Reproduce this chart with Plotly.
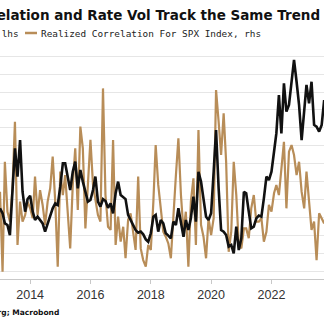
import pandas as pd
import plotly.graph_objects as go

# Monthly observations starting Jan 2013
start_month = "2013-01-01"

rate_vol_lhs = [
    75.4, 72.6, 67.0, 66.1, 60.5, 82.8, 108.7, 93.0, 113.3, 84.6,
    73.5, 80.5, 82.4, 73.5, 68.9, 70.7, 68.9, 67.0, 62.4, 67.0,
    70.7, 75.4, 78.1, 77.2, 87.4, 100.4, 100.4, 93.0, 85.5, 95.7,
    101.3, 86.5, 96.7, 90.2, 83.7, 79.1, 80.0, 85.5, 93.0, 79.1,
    76.3, 80.5, 79.4, 75.7, 78.1, 72.6, 83.7, 90.2, 82.8, 81.8,
    80.5, 71.7, 68.9, 65.2, 63.3, 61.8, 62.4, 60.9, 58.1, 56.8,
    61.5, 70.7, 71.7, 62.4, 68.9, 67.0, 61.5, 60.2, 58.7, 68.0,
    66.1, 75.4, 68.0, 59.6, 68.9, 63.3, 69.8, 81.8, 68.0, 95.7,
    90.2, 80.9, 70.7, 68.9, 72.6, 95.7, 118.9, 86.5, 63.3, 62.4,
    60.5, 54.1, 55.0, 50.4, 65.2, 52.2, 58.7, 84.6, 83.7, 73.5,
    64.3, 65.2, 69.8, 71.3, 70.7, 80.9, 93.0, 91.1, 95.7, 106.8,
    117.0, 138.3, 117.0, 144.8, 129.1, 132.8, 146.7, 157.8, 145.7, 132.8,
    113.3, 129.1, 143.9, 133.7, 145.7, 121.7, 120.7, 118.0, 121.7, 135.5,
]

realized_corr_rhs = [
    0.357, 0.001, 0.490, 0.268, 0.224, 0.372, 0.668, 0.120, 0.313, 0.224,
    0.253, 0.313, 0.283, 0.239, 0.424, 0.253, 0.364, 0.298, 0.209, 0.313,
    0.372, 0.513, 0.313, 0.024, 0.446, 0.342, 0.431, 0.239, 0.105, 0.387,
    0.550, 0.276, 0.646, 0.550, 0.194, 0.387, 0.587, 0.387, 0.327, 0.253,
    0.224, 0.816, 0.342, 0.201, 0.187, 0.587, 0.120, 0.246, 0.135, 0.201,
    0.061, 0.231, 0.261, 0.179, 0.098, 0.424, 0.105, 0.053, 0.024, 0.120,
    0.098, 0.313, 0.564, 0.387, 0.268, 0.179, 0.157, 0.127, 0.061, 0.268,
    0.431, 0.594, 0.342, 0.179, 0.268, 0.024, 0.313, 0.416, 0.120, 0.631,
    0.209, 0.157, 0.061, 0.239, 0.164, 0.239, 0.809, 0.668, 0.520, 0.705,
    0.490, 0.090, 0.179, 0.490, 0.342, 0.120, 0.105, 0.194, 0.194, 0.150,
    0.283, 0.342, 0.224, 0.224, 0.239, 0.135, 0.179, 0.298, 0.268, 0.350,
    0.387, 0.342, 0.461, 0.579, 0.283, 0.535, 0.564, 0.520, 0.431, 0.490,
    0.357, 0.283, 0.446, 0.313, 0.187, 0.224, 0.053, 0.261, 0.239, 0.216,
]

title_text = "Stock Correlation and Rate Vol Track the Same Trend"
name_black = "MOVE Index, lhs"
name_tan = "Realized Correlation For SPX Index, rhs"
source_text = "Source: Bloomberg; Macrobond"

dates = pd.date_range(start_month, periods=len(rate_vol_lhs), freq="MS")

BLACK = "#111111"
TAN = "#B88D58"
W, H = 324, 326
T, B = 47, 47
plot_h = H - T - B


def py(p):
    # pixel row -> paper y
    return (H - B - p) / plot_h


def px(p):
    return p / W


fig = go.Figure()
fig.add_trace(go.Scatter(x=dates, y=realized_corr_rhs, name=name_tan, mode="lines",
                         line=dict(color=TAN, width=2.2), yaxis="y"))
fig.add_trace(go.Scatter(x=dates, y=rate_vol_lhs, name=name_black, mode="lines",
                         line=dict(color=BLACK, width=2.6), yaxis="y2"))

fig.update_layout(
    width=W, height=H,
    margin=dict(l=0, r=0, t=T, b=B, pad=0),
    paper_bgcolor="white", plot_bgcolor="white",
    showlegend=False,
    xaxis=dict(type="date", range=["2013-01-01", "2023-09-29"],
               tick0="2014-01-01", dtick="M24", tickformat="%Y",
               ticks="outside", ticklen=4, tickcolor="#c8c8c8",
               showline=True, linecolor="#c8c8c8", linewidth=1,
               showgrid=False, zeroline=False,
               tickfont=dict(family="Liberation Sans", size=12.5, color="#333333")),
    yaxis=dict(range=[-0.0311, 1.0], showgrid=False, showticklabels=False,
               zeroline=False, ticks=""),
    yaxis2=dict(range=[36.1, 165.0], overlaying="y", side="left",
                tick0=40, dtick=10, showgrid=True, gridcolor="#e6e6e6", gridwidth=1,
                showticklabels=False, zeroline=False, ticks=""),
)

fig.add_annotation(text="<b>" + title_text + "</b>", xref="paper", yref="paper",
                   x=px(322), y=py(15), xanchor="right", yanchor="middle",
                   showarrow=False, font=dict(family="DejaVu Sans", size=13.5, color="#111111"))
fig.add_annotation(text=name_black, xref="paper", yref="paper",
                   x=px(21), y=py(33), xanchor="right", yanchor="middle",
                   showarrow=False, font=dict(family="DejaVu Sans Mono", size=9.4, color="#222222"))
fig.add_annotation(text=name_tan, xref="paper", yref="paper",
                   x=px(39), y=py(33), xanchor="left", yanchor="middle",
                   showarrow=False, font=dict(family="DejaVu Sans Mono", size=9.4, color="#222222"))
fig.add_shape(type="line", xref="paper", yref="paper",
              x0=px(25), x1=px(37), y0=py(33), y1=py(33),
              line=dict(color=TAN, width=2.5))
fig.add_annotation(text="<b>" + source_text + "</b>", xref="paper", yref="paper",
                   x=px(61), y=py(312), xanchor="right", yanchor="middle",
                   showarrow=False, font=dict(family="DejaVu Sans", size=7.5, color="#111111"))

fig.write_html("out.html")
